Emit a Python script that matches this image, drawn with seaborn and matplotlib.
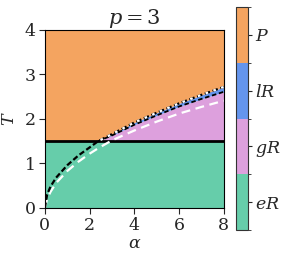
import matplotlib
matplotlib.use("Agg")
import matplotlib.pyplot as plt
import seaborn as sns
import numpy as np
from matplotlib.colors import ListedColormap, BoundaryNorm
from matplotlib.cm import ScalarMappable

sns.set_style("ticks")
plt.rcParams['font.family'] = ['DejaVu Serif']
plt.rcParams['mathtext.fontset'] = 'dejavuserif'
plt.rcParams['font.size'] = 12.5

# values
alpha = [0, 0.1, 0.25, 0.5, 1, 1.5, 2, 2.38, 3, 4, 5, 6, 7, 8]
T_up = [0, 0.30, 0.48, 0.68, 0.96, 1.18, 1.36, 1.50, 1.66, 1.92, 2.14, 2.35, 2.54, 2.72]   # P boundary
T_lr = [0, 0.30, 0.48, 0.68, 0.96, 1.18, 1.36, 1.50, 1.63, 1.87, 2.08, 2.28, 2.45, 2.61]   # lR / gR boundary
T_w = [0, 0.20, 0.36, 0.56, 0.83, 1.04, 1.22, 1.34, 1.52, 1.74, 1.94, 2.12, 2.27, 2.41]    # white dashed
T_g = 1.5          # eR boundary
phases = ['$eR$', '$gR$', '$lR$', '$P$']
colors = ['#66cdaa', '#dda0dd', '#6495ed', '#f4a460']

a = np.array(alpha)
up = np.maximum(np.array(T_up), T_g)
lr = np.maximum(np.array(T_lr), T_g)

fig = plt.figure(figsize=(2.84, 2.6), dpi=100)
ax = fig.add_axes([0.158, 0.2, 0.630, 0.685])

ax.fill_between(a, 0, T_g, color=colors[0], lw=0)
ax.fill_between(a, T_g, lr, color=colors[1], lw=0)
ax.fill_between(a, lr, up, color=colors[2], lw=0)
ax.fill_between(a, up, 4, color=colors[3], lw=0)

ax.axhline(T_g, color='black', lw=2)

sns.lineplot(x=a, y=T_w, ax=ax, color='white', lw=1.6, linestyle=(0, (4, 2.5)))
m = a >= 2.38
sns.lineplot(x=a[m], y=np.array(T_lr)[m], ax=ax, color='black', lw=1.3, linestyle=(0, (2.5, 1.5)))
sns.lineplot(x=a, y=T_up, ax=ax, color='black', lw=1.6, linestyle=(0, (2.5, 1.2)))
sns.lineplot(x=a[m], y=np.array(T_up)[m], ax=ax, color='white', lw=1.6, linestyle=(2.5, (1.2, 2.5)))

ax.set_xlim(0, 8)
ax.set_ylim(0, 4)
ax.set_xticks([0, 2, 4, 6, 8])
ax.set_yticks([0, 1, 2, 3, 4])
ax.tick_params(length=4, pad=2.5)
ax.set_xlabel(r'$\alpha$', labelpad=1)
ax.set_ylabel(r'$T$', labelpad=5)
ax.set_title(r'$p=3$', pad=3)
for s in ax.spines.values():
    s.set_visible(True)
    s.set_color('black')

cax = fig.add_axes([0.831, 0.115, 0.042, 0.858])
cmap = ListedColormap(colors)
norm = BoundaryNorm([0, 1, 2, 3, 4], 4)
cb = fig.colorbar(ScalarMappable(norm=norm, cmap=cmap), cax=cax, ticks=[0.5, 1.5, 2.5, 3.5])
cb.ax.set_yticklabels(phases)
cb.ax.tick_params(length=3, pad=2)
cb.outline.set_edgecolor('#333333')

fig.savefig('out.png', dpi=100)
